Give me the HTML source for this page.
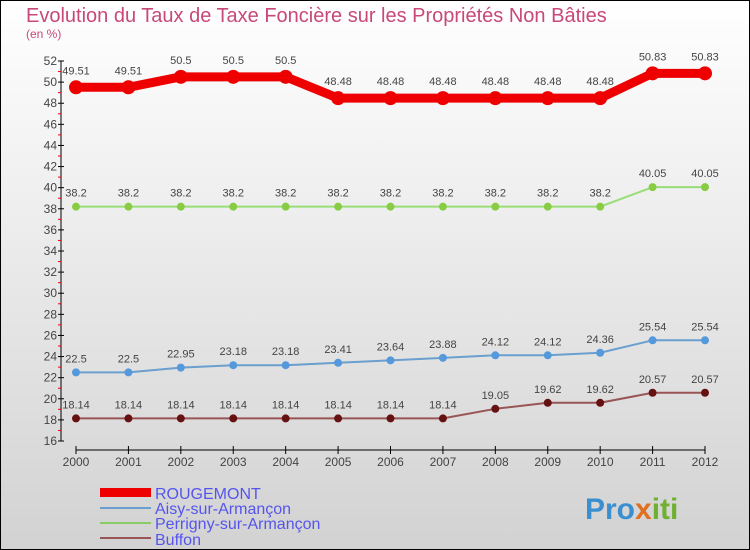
<!DOCTYPE html>
<html><head><meta charset="utf-8"><style>
body{margin:0}
svg{display:block;font-family:"Liberation Sans",sans-serif}
</style></head><body>
<svg width="750" height="550" xmlns="http://www.w3.org/2000/svg">
<defs><linearGradient id="bg" x1="0" y1="0" x2="0" y2="1"><stop offset="0" stop-color="#ffffff"/><stop offset="1" stop-color="#d2d2d2"/></linearGradient></defs>
<rect x="0.5" y="0.5" width="749" height="549" fill="url(#bg)" stroke="#000"/>
<text x="26" y="22" font-size="20" fill="#c8487a">Evolution du Taux de Taxe Foncière sur les Propriétés Non Bâties</text>
<text x="26" y="38" font-size="12" fill="#c8487a">(en %)</text>
<g id="axes"></g>
<g id="series"></g>
<g>
<rect x="100" y="488" width="51" height="9" fill="#ee0000"/>
<text x="155" y="499" font-size="16" fill="#5555ee">ROUGEMONT</text>
<line x1="100" y1="508" x2="151" y2="508" stroke="#6a9fcf" stroke-width="2"/>
<text x="155" y="514" font-size="16" fill="#5555ee">Aisy-sur-Armançon</text>
<line x1="100" y1="523" x2="151" y2="523" stroke="#88cc66" stroke-width="2"/>
<text x="155" y="529" font-size="16" fill="#5555ee">Perrigny-sur-Armançon</text>
<line x1="100" y1="538" x2="151" y2="538" stroke="#995555" stroke-width="2"/>
<text x="155" y="545" font-size="16" fill="#5555ee">Buffon</text>
</g>
<text x="585" y="519" font-size="30" font-weight="bold" fill="#3a8fd0">Pro<tspan fill="#e07020">x</tspan><tspan fill="#70b030">iti</tspan></text>
</svg>
<script>
const years=[2000,2001,2002,2003,2004,2005,2006,2007,2008,2009,2010,2011,2012];
const rougemont=[49.51,49.51,50.5,50.5,50.5,48.48,48.48,48.48,48.48,48.48,48.48,50.83,50.83];
const perrigny=[38.2,38.2,38.2,38.2,38.2,38.2,38.2,38.2,38.2,38.2,38.2,40.05,40.05];
const aisy=[22.5,22.5,22.95,23.18,23.18,23.41,23.64,23.88,24.12,24.12,24.36,25.54,25.54];
const buffon=[18.14,18.14,18.14,18.14,18.14,18.14,18.14,18.14,19.05,19.62,19.62,20.57,20.57];
const yTicks=[16,18,20,22,24,26,28,30,32,34,36,38,40,42,44,46,48,50,52];
const NS="http://www.w3.org/2000/svg";
const yMin=16,yMax=52,yTop=61,yBot=441;
const X=i=>76+i*(705-76)/(years.length-1);
const Y=v=>yBot-(v-yMin)*(yBot-yTop)/(yMax-yMin);
function mk(tag,attrs,parent){const e=document.createElementNS(NS,tag);for(const k in attrs)e.setAttribute(k,attrs[k]);parent.appendChild(e);return e;}
const ax=document.getElementById('axes');
let l=mk('line',{x1:61,y1:yTop,x2:61,y2:yBot,stroke:'#000'},ax);


yTicks.forEach(t=>{
 const y=Y(t);
 mk('line',{x1:58,y1:y,x2:64,y2:y,stroke:'#000'},ax);
 mk('line',{x1:58,y1:Y(t+1),x2:61,y2:Y(t+1),stroke:t<52?'#e00':'none'},ax);
 const tx=mk('text',{x:57,y:y+4,'font-size':12,'text-anchor':'end',fill:'#444'},ax);
 tx.textContent=t;
 
 
});
l=mk('line',{x1:76,y1:450,x2:705,y2:450,stroke:'#000'},ax);


years.forEach((yr,i)=>{
 mk('line',{x1:X(i),y1:446,x2:X(i),y2:454,stroke:'#000'},ax);
 const tx=mk('text',{x:X(i),y:466,'font-size':12,'text-anchor':'middle',fill:'#444'},ax);
 tx.textContent=yr;
 
 
});
const sg=document.getElementById('series');
function series(vals,name,line,w,dot,r){
 const g=mk('g',{},sg);
 
 
 const p=mk('polyline',{points:vals.map((v,i)=>X(i)+','+Y(v)).join(' '),fill:'none',stroke:line,'stroke-width':w,'stroke-linejoin':'round'},g);
 
 
 vals.forEach((v,i)=>{
  const c=mk('circle',{cx:X(i),cy:Y(v),r:r,fill:dot},g);
  
  
  const t=mk('text',{x:X(i),y:Y(v)-(r+6),'font-size':11,'text-anchor':'middle',fill:'#444'},g);
  t.textContent=v;
  
  
 });
}
series(rougemont,'rougemont','#ee0000',9,'#ee0000',7);
series(perrigny,'perrigny','#99dd77',2,'#88cc44',4);
series(aisy,'aisy','#6a9fcf',2,'#5599dd',4);
series(buffon,'buffon','#995555',2,'#661111',4);
</script>
</body></html>
